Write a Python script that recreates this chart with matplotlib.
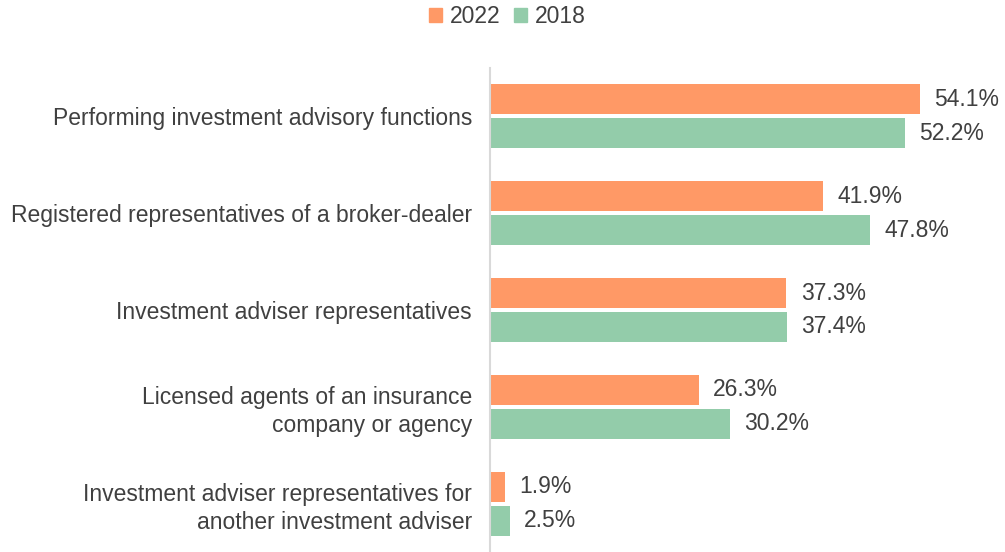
import numpy as np
import matplotlib.pyplot as plt
from matplotlib.patches import Patch

plt.rcParams['font.family'] = ['Liberation Sans', 'DejaVu Sans']

categories = ['Performing investment advisory functions',
              'Registered representatives of a broker-dealer',
              'Investment adviser representatives',
              'Licensed agents of an insurance\ncompany or agency',
              'Investment adviser representatives for\nanother investment adviser']
v2022 = [54.1, 41.9, 37.3, 26.3, 1.9]
v2018 = [52.2, 47.8, 37.4, 30.2, 2.5]
c2022 = '#FF9966'
c2018 = '#93CCAA'
txt = '#404040'
fs = 16.5

fig = plt.figure(figsize=(10.05, 5.52), dpi=100)
ax = fig.add_axes([0.4876, 0.0, 0.5074, 0.877])

y = np.arange(len(categories))
h = 0.31
ax.barh(y - 0.175, v2022, height=h, color=c2022)
ax.barh(y + 0.175, v2018, height=h, color=c2018)

for i in range(len(categories)):
    ax.text(v2022[i] + 1.8, y[i] - 0.175, '%.1f%%' % v2022[i], va='center', ha='left',
            fontsize=fs, color=txt)
    ax.text(v2018[i] + 1.8, y[i] + 0.175, '%.1f%%' % v2018[i], va='center', ha='left',
            fontsize=fs, color=txt)

ax.set_xlim(0, 64.2)
ax.set_ylim(4.5, -0.5)
ax.set_yticks(y)
ax.set_yticklabels(categories, fontsize=fs, color=txt, linespacing=1.25)
ax.tick_params(axis='y', length=0, pad=13)
ax.set_xticks([])
for s in ['top', 'right', 'bottom']:
    ax.spines[s].set_visible(False)
ax.spines['left'].set_color('#D9D9D9')
ax.spines['left'].set_linewidth(1.5)

handles = [Patch(color=c2022, label='2022'), Patch(color=c2018, label='2018')]
leg = fig.legend(handles=handles, loc='upper center', bbox_to_anchor=(0.505, 1.028), ncol=2,
                 frameon=False, fontsize=fs, handlelength=0.55, handleheight=0.55,
                 handletextpad=0.35, columnspacing=0.6)
for t in leg.get_texts():
    t.set_color(txt)

fig.savefig('out.png', dpi=100)
